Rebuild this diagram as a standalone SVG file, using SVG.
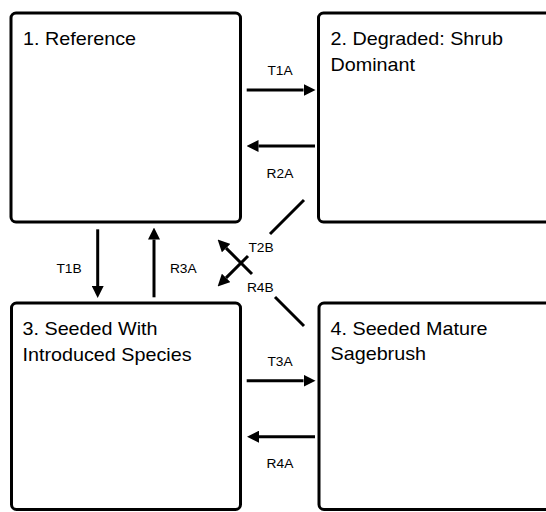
<svg xmlns="http://www.w3.org/2000/svg" width="546" height="512" viewBox="0 0 546 512">
<style>
.box{fill:#fff;stroke:#000;stroke-width:3}
.t{font-family:"Liberation Sans",Arial,sans-serif;font-size:19px;fill:#000}
.l{font-family:"Liberation Sans",Arial,sans-serif;font-size:13px;fill:#000;text-anchor:middle}
.c{fill:none;stroke:#000;stroke-width:3}
</style>
<defs>
<marker id="ah" markerUnits="userSpaceOnUse" markerWidth="12" markerHeight="12" refX="0" refY="6" orient="auto">
<path d="M0,0 L12,6 L0,12 z" fill="#000"/>
</marker>
</defs>
<rect width="546" height="512" fill="#fff"/>
<g id="node1">
<rect class="box" x="11" y="13" width="229.5" height="209" rx="5"/>
<text class="t" transform="translate(23,44.5) scale(1.04,1)">1. Reference</text>
</g>
<g id="node2">
<rect class="box" x="318.5" y="13" width="250" height="209" rx="5"/>
<text class="t" transform="translate(330.5,45) scale(1.04,1)">2. Degraded: Shrub</text>
<text class="t" transform="translate(330.5,70.7) scale(1.04,1)">Dominant</text>
</g>
<g id="node3">
<rect class="box" x="11.5" y="303" width="229" height="206.5" rx="5"/>
<text class="t" transform="translate(22.5,335) scale(1.04,1)">3. Seeded With</text>
<text class="t" transform="translate(22.5,360.7) scale(1.04,1)">Introduced Species</text>
</g>
<g id="node4">
<rect class="box" x="319" y="303" width="250" height="206.5" rx="5"/>
<text class="t" transform="translate(330.5,334.5) scale(1.04,1)">4. Seeded Mature</text>
<text class="t" transform="translate(330.5,360) scale(1.04,1)">Sagebrush</text>
</g>
<g id="connectors">
<path class="c" d="M246.7,90 L303.5,90" marker-end="url(#ah)"/>
<path class="c" d="M315,146 L258.5,146" marker-end="url(#ah)"/>
<path class="c" d="M97.7,229.3 L97.7,286" marker-end="url(#ah)"/>
<path class="c" d="M154,297.3 L154,239.5" marker-end="url(#ah)"/>
<path class="c" d="M246.7,380.7 L303.5,380.7" marker-end="url(#ah)"/>
<path class="c" d="M315,436.7 L259,436.7" marker-end="url(#ah)"/>
<path class="c" d="M304,200 L270,234 M248,256 L226.1,277.9" marker-end="url(#ah)"/>
<path class="c" d="M304,326 L275,297 M252,274 L226.1,248.1" marker-end="url(#ah)"/>
<text class="l" transform="translate(280,75) scale(1.06,1)">T1A</text>
<text class="l" transform="translate(280,178.3) scale(1.06,1)">R2A</text>
<text class="l" transform="translate(69,273) scale(1.06,1)">T1B</text>
<text class="l" transform="translate(183.3,273) scale(1.06,1)">R3A</text>
<text class="l" transform="translate(261,251.7) scale(1.06,1)">T2B</text>
<text class="l" transform="translate(260.3,291.5) scale(1.06,1)">R4B</text>
<text class="l" transform="translate(280,366) scale(1.06,1)">T3A</text>
<text class="l" transform="translate(280,468.3) scale(1.06,1)">R4A</text>
</g>
</svg>
